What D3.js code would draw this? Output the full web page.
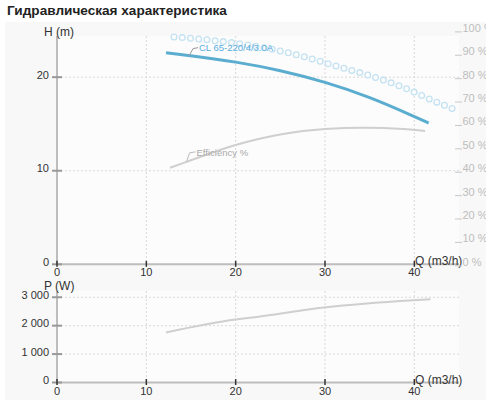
<!DOCTYPE html>
<html><head><meta charset="utf-8">
<script src="https://cdn.jsdelivr.net/npm/d3@7"></script>
<style>
html,body{margin:0;padding:0;background:#fff;}
svg{display:block;font-family:"Liberation Sans",Arial,sans-serif;}
</style></head>
<body>
<svg id="c" width="500" height="400"></svg>
<script>
// ---- data ----
const title = "Гидравлическая характеристика";
const qTicks = [0, 10, 20, 30, 40];
const hTicks = [0, 10, 20];
const effTicks = [0, 10, 20, 30, 40, 50, 60, 70, 80, 90, 100];
const pTicks = [0, 1000, 2000, 3000];
const pTickLabels = ["0", "1 000", "2 000", "3 000"];

const headQ = [12.2, 15, 20, 25, 30, 35, 40, 41.6];
const headH = [22.6, 22.3, 21.65, 20.75, 19.5, 17.9, 15.8, 15.1];

const dotQ = [13.1, 17.7, 19.5, 24.0, 27.6, 31.2, 34.9, 38.5, 42.1, 44.9];
const dotH = [24.3, 23.9, 23.7, 23.0, 22.2, 21.2, 20.2, 19.0, 17.5, 16.4];

const effQ = [12.65, 14.5, 20.0, 25.3, 30.0, 34.3, 38.8, 41.2];
const effV = [41.3, 43.8, 51.0, 55.7, 57.8, 58.4, 57.8, 57.0];

const powQ = [12.2, 20, 21.6, 29.9, 39.9, 41.8];
const powW = [1762, 2218, 2275, 2640, 2896, 2930];

const headLabel = "CL 65-220/4/3.0A";
const effLabel = "Efficiency %";

// ---- layout ----
const svg = d3.select("#c");
const L = 57, R = 459;
const x = d3.scaleLinear().domain([0, 45]).range([L, R]);
const yH = d3.scaleLinear().domain([0, 24.4]).range([264.3, 36]);
const yE = d3.scaleLinear().domain([0, 97.6]).range([264.3, 36]);
const yP = d3.scaleLinear().domain([0, 3220]).range([382.5, 291]);

// backgrounds
svg.append("rect").attr("x", 5).attr("y", 22).attr("width", 483).attr("height", 378).attr("fill", "#f8f8f8");
svg.append("rect").attr("x", L).attr("y", 36).attr("width", R - L).attr("height", 264.3 - 36).attr("fill", "#fcfcfc");
svg.append("rect").attr("x", L).attr("y", 291).attr("width", R - L).attr("height", 382.5 - 291).attr("fill", "#fcfcfc");

// title
svg.append("text").attr("x", 7).attr("y", 14.5).attr("font-size", 13.6).attr("font-weight", "bold")
  .attr("fill", "#222").text(title);

function grid(yScale, yVals, top, bottom) {
  const g = svg.append("g").attr("stroke", "#d8d8d8").attr("stroke-width", 1).attr("stroke-dasharray", "2,2");
  qTicks.filter(d => d > 0).forEach(q => {
    g.append("line").attr("x1", x(q)).attr("x2", x(q)).attr("y1", top).attr("y2", bottom);
  });
  yVals.filter(d => d > 0).forEach(v => {
    g.append("line").attr("x1", L).attr("x2", R).attr("y1", yScale(v)).attr("y2", yScale(v));
  });
}
grid(yH, hTicks, 36, 264.3);
grid(yP, pTicks, 291, 382.5);

function axes(yScale, yVals, yLabels, top, bottom, yTitle, titleY) {
  svg.append("line").attr("x1", L).attr("x2", L).attr("y1", top).attr("y2", bottom + 1)
    .attr("stroke", "#bdbdbd").attr("stroke-width", 2);
  svg.append("line").attr("x1", L).attr("x2", R).attr("y1", bottom).attr("y2", bottom)
    .attr("stroke", "#bdbdbd").attr("stroke-width", 2);
  yVals.forEach((v, i) => {
    const yy = yScale(v);
    svg.append("line").attr("x1", 52).attr("x2", 62).attr("y1", yy).attr("y2", yy)
      .attr("stroke", "#999").attr("stroke-width", 2);
    svg.append("text").attr("x", 49).attr("y", yy + 1.5).attr("text-anchor", "end")
      .attr("font-size", 11).attr("fill", "#333").text(yLabels[i]);
  });
  qTicks.forEach(q => {
    svg.append("line").attr("x1", x(q)).attr("x2", x(q)).attr("y1", bottom - 3.5).attr("y2", bottom + 2.5)
      .attr("stroke", "#333").attr("stroke-width", 1.5);
    svg.append("text").attr("x", x(q)).attr("y", bottom + 12).attr("text-anchor", "middle")
      .attr("font-size", 11).attr("fill", "#333").text(q);
  });
  svg.append("text").attr("x", 44).attr("y", titleY).attr("font-size", 12).attr("fill", "#333").text(yTitle);
  svg.append("text").attr("x", 415).attr("y", bottom + 1).attr("font-size", 12).attr("fill", "#333").text("Q (m3/h)");
}
axes(yH, hTicks, hTicks.map(String), 36, 264.3, "H (m)", 36);
axes(yP, pTicks, pTickLabels, 291, 382.5, "P (W)", 290);

// right efficiency axis
effTicks.forEach(v => {
  const yy = yE(v) + 1.5;
  svg.append("line").attr("x1", 455).attr("x2", 462).attr("y1", yy).attr("y2", yy)
    .attr("stroke", "#c8c8c8").attr("stroke-width", 1);
  svg.append("text").attr("x", 462.5).attr("y", yy).attr("font-size", 11).attr("fill", "#bdbdbd").text(v + " %");
});
svg.append("rect").attr("x", 486).attr("y", 20).attr("width", 14).attr("height", 380).attr("fill", "#fff");

// dotted (ring) curve
const dotLine = d3.line().x((d, i) => x(dotQ[i])).y((d, i) => yH(dotH[i])).curve(d3.curveMonotoneX);
const dotPath = dotLine(dotQ);
svg.append("path").attr("d", dotPath).attr("fill", "none").attr("stroke", "#c4e2f1")
  .attr("stroke-width", 7).attr("stroke-linecap", "round").attr("stroke-dasharray", "0 8.25");
svg.append("path").attr("d", dotPath).attr("fill", "none").attr("stroke", "#fcfcfc")
  .attr("stroke-width", 4.4).attr("stroke-linecap", "round").attr("stroke-dasharray", "0 8.25");

// efficiency curve
const effLine = d3.line().x((d, i) => x(effQ[i])).y((d, i) => yE(effV[i])).curve(d3.curveMonotoneX);
svg.append("path").attr("d", effLine(effQ)).attr("fill", "none").attr("stroke", "#cfcfcf").attr("stroke-width", 2);

// head curve
const headLine = d3.line().x((d, i) => x(headQ[i])).y((d, i) => yH(headH[i])).curve(d3.curveBasis);
svg.append("path").attr("d", headLine(headQ)).attr("fill", "none").attr("stroke", "#5badd0").attr("stroke-width", 3);

// power curve
const powLine = d3.line().x((d, i) => x(powQ[i])).y((d, i) => yP(powW[i])).curve(d3.curveMonotoneX);
svg.append("path").attr("d", powLine(powQ)).attr("fill", "none").attr("stroke", "#cfcfcf").attr("stroke-width", 2);

// labels with leaders
const hx = x(15), hy = yH(22.3);
svg.append("path").attr("d", `M${hx - 2},${hy + 0.5} L${hx + 2},${hy - 7} L${hx + 7},${hy - 8}`)
  .attr("fill", "none").attr("stroke", "#999").attr("stroke-width", 1);
svg.append("text").attr("x", hx + 8).attr("y", hy - 4.5).attr("font-size", 9.5).attr("fill", "#5aaedc").text(headLabel);

const ex = x(14.5), ey = yE(43.8);
svg.append("path").attr("d", `M${ex},${ey} L${ex + 3},${ey - 9} L${ex + 9},${ey - 10}`)
  .attr("fill", "none").attr("stroke", "#bbb").attr("stroke-width", 1);
svg.append("text").attr("x", ex + 10).attr("y", ey - 6).attr("font-size", 9.5).attr("fill", "#aaa").text(effLabel);
</script>
</body></html>
